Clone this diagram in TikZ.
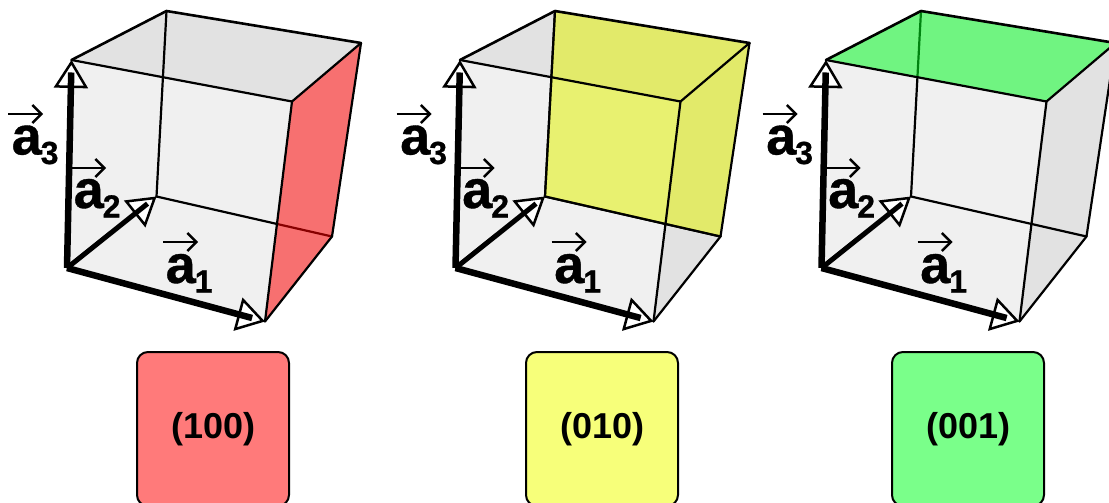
\documentclass[tikz,border=0pt]{standalone}
\usepackage{fontspec}
\setmainfont{Liberation Sans}
\newfontfamily\heavyfont[UprightFont={* Bold},FakeBold=0.7]{Liberation Sans}
\usetikzlibrary{arrows.meta,calc}
\definecolor{basegray}{HTML}{F0F0F0}
\definecolor{sidegray}{HTML}{E2E2E2}
\definecolor{facered}{HTML}{FF0000}
\definecolor{faceyellow}{HTML}{E2F200}
\definecolor{facegreen}{HTML}{00F820}
\definecolor{boxred}{HTML}{FF7A7A}
\definecolor{boxyellow}{HTML}{F7FF7A}
\definecolor{boxgreen}{HTML}{7AFF8A}
\tikzset{
  x=1pt,y=-1pt,
  edge/.style={draw=black,line width=2.2pt,line join=round,line cap=round},
  outer edge/.style={edge,line width=2.6pt},
  shaft/.style={draw=black,line width=6.5pt},
  headtip/.style={draw=black,line width=2.5pt,-{Triangle[open,fill=white,length=28pt,width=34pt]}},
  vecbar/.style={draw=black,line width=2.4pt,-{Straight Barb[length=9pt,width=18pt,line width=2.4pt]}},
  veclabel/.style={inner sep=0pt,anchor=base west,font=\fontsize{54}{54}\selectfont\heavyfont},
  indexbox/.style={draw=black,line width=2pt,rounded corners=11pt,minimum width=152pt,minimum height=154pt,inner sep=0pt,font=\fontsize{36}{36}\selectfont\bfseries},
}
\newcommand{\subidx}[1]{\raisebox{-9.5pt}{\hspace{-1pt}\fontsize{32}{32}\selectfont\bfseries #1}}
% #1 shift, #2 prefix, #3 face colour, #4 face path, #5 grey faces kept, #6 edges redrawn over the face
\newcommand{\crystalcube}[6]{%
  \begin{scope}[shift={(#1,0)},name prefix=#2-]
    \coordinate (O) at (67,268);
    \coordinate (X) at (265,321.5);
    \coordinate (Y) at (156.5,196.5);
    \coordinate (Z) at (71.5,60);
    \coordinate (XY) at (332,236.5);
    \coordinate (XZ) at (292,101.5);
    \coordinate (YZ) at (166.5,11);
    \coordinate (XYZ) at (361,43);
    \fill[basegray] (O)--(X)--(XY)--(XYZ)--(YZ)--(Z)--cycle;
    #5
    \draw[edge] (Y)--(XY);
    \draw[edge] (Y)--(YZ);
    \fill[#3,opacity=0.53] #4;
    #6
    \draw[edge] (X)--(XY)--(XYZ);
    \draw[edge] (X)--(XZ);
    \draw[edge] (Z)--(XZ);
    \draw[edge] (XZ)--(XYZ);
    \draw[outer edge] (Z)--(YZ)--(XYZ);
    \draw[headtip] (O)--(X);
    \draw[headtip] (O)--(Y);
    \draw[headtip] (O)--(Z);
    \draw[shaft] (O)--($(O)!0.935!(X)$);
    \draw[shaft,line width=5pt] (O)--($(O)!0.90!(Y)$);
    \draw[shaft] (O)--($(O)!0.94!(Z)$);
    \node[veclabel] (a1) at (165.5,283) {a\subidx{1}};
    \node[veclabel] (a2) at (73.5,208) {a\subidx{2}};
    \node[veclabel] (a3) at (11.5,154.5) {a\subidx{3}};
    \coordinate (b1s) at (163,242); \coordinate (b1e) at (198,242);
    \coordinate (b2s) at (72,168); \coordinate (b2e) at (106,168);
    \coordinate (b3s) at (8,114); \coordinate (b3e) at (43,114);
    \draw[vecbar] (b1s)--(b1e);
    \draw[vecbar] (b2s)--(b2e);
    \draw[vecbar] (b3s)--(b3e);
  \end{scope}}
\begin{document}
\begin{tikzpicture}
  \useasboundingbox (0,0) rectangle (1109,503);
  \clip (0,0) rectangle (1109,503);
  \crystalcube{0}{c1}{facered}{(c1-X)--(c1-XY)--(c1-XYZ)--(c1-XZ)--cycle}
    {\fill[sidegray] (c1-Z)--(c1-YZ)--(c1-XYZ)--(c1-XZ)--cycle;}{}
  \crystalcube{388.5}{c2}{faceyellow}{(c2-Y)--(c2-XY)--(c2-XYZ)--(c2-YZ)--cycle}
    {\fill[sidegray] (c2-Z)--(c2-YZ)--(c2-XYZ)--(c2-XZ)--cycle;
     \fill[sidegray] (c2-X)--(c2-XY)--(c2-XYZ)--(c2-XZ)--cycle;}
    {\draw[edge] (c2-Y)--(c2-XY); \draw[edge] (c2-Y)--(c2-YZ);}
  \crystalcube{754.5}{c3}{facegreen}{(c3-Z)--(c3-YZ)--(c3-XYZ)--(c3-XZ)--cycle}
    {\fill[sidegray] (c3-X)--(c3-XY)--(c3-XYZ)--(c3-XZ)--cycle;}{}
  \node[indexbox,fill=boxred] (b100) at (213,429) {\raisebox{2pt}{\hspace{1pt}(100)}};
  \node[indexbox,fill=boxyellow] (b010) at (602,429) {\raisebox{2pt}{\hspace{1pt}(010)}};
  \node[indexbox,fill=boxgreen] (b001) at (968,429) {\raisebox{2pt}{\hspace{1pt}(001)}};
\end{tikzpicture}
\end{document}
